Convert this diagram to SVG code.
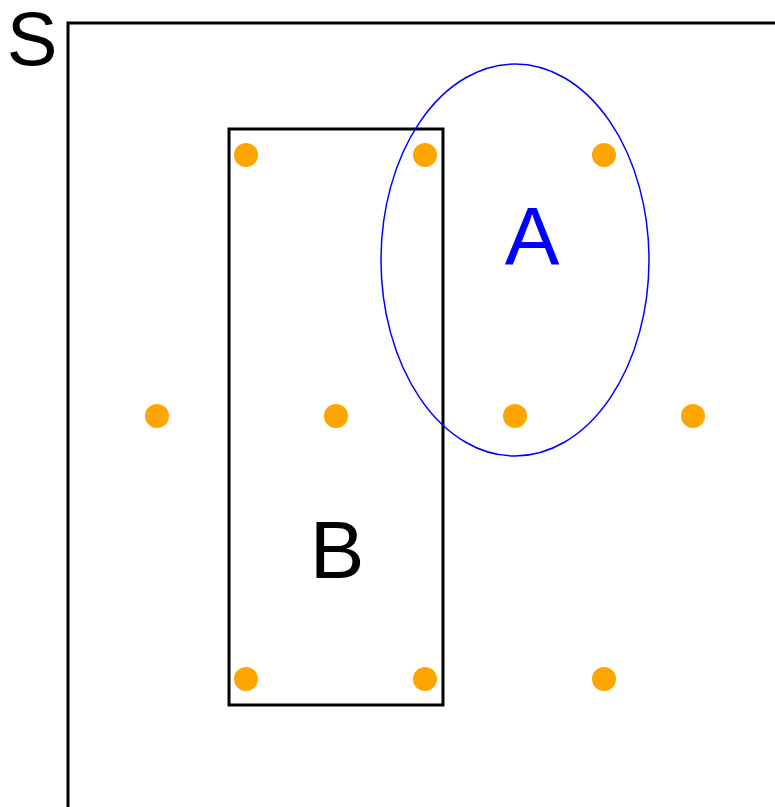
<svg xmlns="http://www.w3.org/2000/svg" width="775" height="807" viewBox="0 0 775 807">
<style>
.dot{fill:#ffa500}
.lbl{font-family:"Liberation Sans",Arial,sans-serif;text-anchor:middle}
</style>
<rect width="775" height="807" fill="#fff"/>
<g id="S">
<path d="M68 807 V23 H775" fill="none" stroke="#000" stroke-width="3"/>
<text class="lbl" x="32" y="65" font-size="76" fill="#000">S</text>
</g>
<g id="B">
<rect x="229" y="129" width="214" height="576" fill="none" stroke="#000" stroke-width="3"/>
<text class="lbl" x="337" y="578" font-size="82" fill="#000">B</text>
</g>
<g id="A">
<ellipse cx="515" cy="260" rx="134" ry="196" fill="none" stroke="#0000ff" stroke-width="1.5"/>
<text class="lbl" x="532" y="264" font-size="82" fill="#0000ff">A</text>
</g>
<g id="points">
<circle class="dot" cx="246" cy="155" r="12"/>
<circle class="dot" cx="425" cy="155" r="12"/>
<circle class="dot" cx="604" cy="155" r="12"/>
<circle class="dot" cx="157" cy="416" r="12"/>
<circle class="dot" cx="336" cy="416" r="12"/>
<circle class="dot" cx="515" cy="416" r="12"/>
<circle class="dot" cx="693" cy="416" r="12"/>
<circle class="dot" cx="246" cy="679" r="12"/>
<circle class="dot" cx="425" cy="679" r="12"/>
<circle class="dot" cx="604" cy="679" r="12"/>
</g>
</svg>
